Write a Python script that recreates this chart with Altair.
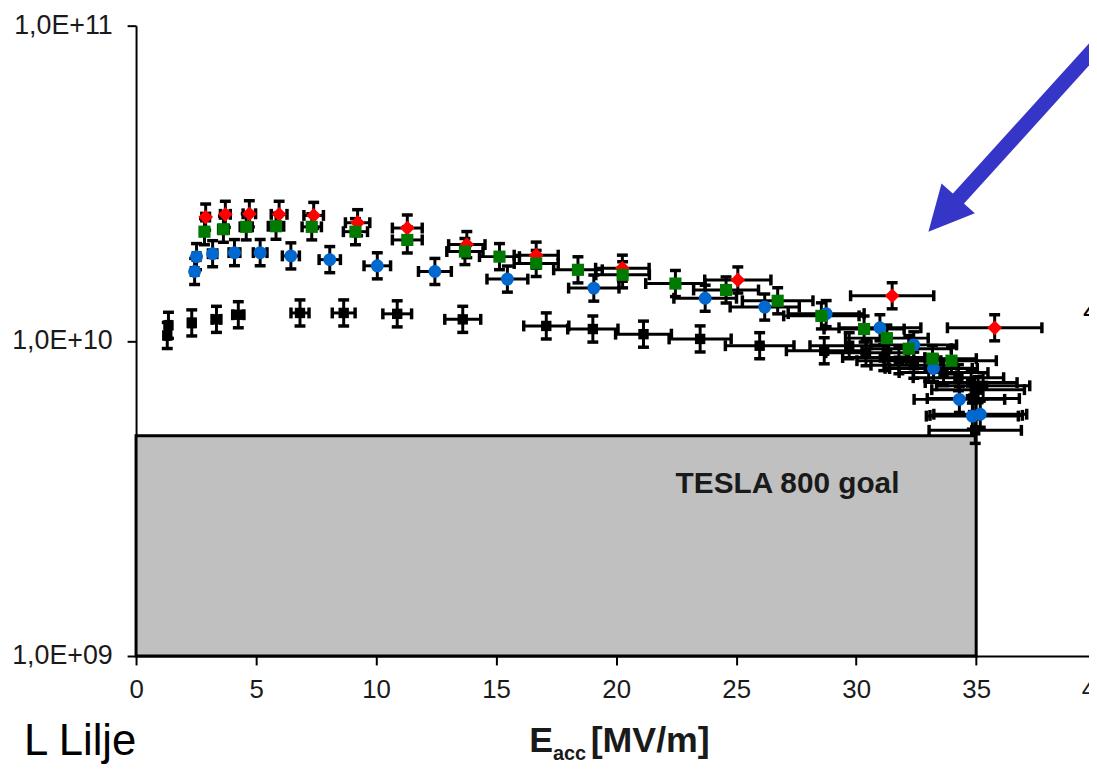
import altair as alt
import pandas as pd

# ---- data: E_acc [MV/m] and Q0 (in units of 1e10) ----
red_E = [2.9, 3.72, 4.72, 5.96, 7.4, 9.23, 11.3, 13.78, 16.67, 20.26, 25.07, 31.5, 35.77]
red_Q = [2.47, 2.52, 2.53, 2.52, 2.50, 2.37, 2.28, 2.02, 1.87, 1.70, 1.56, 1.39, 1.10]

green_E = [2.85, 3.64, 4.59, 5.83, 7.32, 9.14, 11.3, 13.7, 15.14, 16.67, 18.41, 20.27,
           22.47, 24.58, 26.73, 28.55, 30.33, 31.28, 32.19, 33.18, 33.97]
green_Q = [2.22, 2.26, 2.30, 2.31, 2.30, 2.22, 2.09, 1.92, 1.85, 1.76, 1.68, 1.62,
           1.52, 1.45, 1.34, 1.20, 1.09, 1.02, 0.944, 0.878, 0.865]

blue_E = [2.44, 2.52, 3.19, 4.10, 5.17, 6.45, 8.07, 10.05, 12.45, 15.47, 19.07, 23.71,
          26.19, 28.75, 30.99, 32.40, 33.22, 34.30, 34.84, 35.17]
blue_Q = [1.66, 1.85, 1.89, 1.905, 1.905, 1.86, 1.81, 1.73, 1.66, 1.57, 1.47, 1.365,
          1.28, 1.22, 1.10, 0.971, 0.817, 0.652, 0.577, 0.585]

black_E = [1.3, 1.35, 2.32, 3.35, 4.26, 6.83, 8.65, 10.88, 13.61, 17.09, 19.03, 21.14,
           23.5, 25.98, 28.67, 29.71, 30.41, 31.15, 31.78, 32.40, 33.02, 33.64, 34.26,
           34.79, 35.29, 35.08, 34.88, 35.0, 34.96]
black_Q = [1.04, 1.12, 1.14, 1.17, 1.21, 1.226, 1.226, 1.218, 1.17, 1.115, 1.09, 1.05,
           1.014, 0.965, 0.93, 0.965, 0.917, 0.885, 0.865, 0.837, 0.818, 0.793, 0.764,
           0.737, 0.72, 0.70, 0.656, 0.58, 0.52]

rel_err_E = 0.055
rel_err_Q = 0.10

series_order = ["black", "blue", "red", "green"]
series_color = {"black": "#000000", "blue": "#0068cf", "red": "#ff0000", "green": "#007a00"}
series_shape = {"black": "square", "blue": "circle", "red": "diamond", "green": "square"}
series_size = {"black": 110, "blue": 170, "red": 220, "green": 150}

goal_E = [0, 35]
goal_Q = [1e9, 5e9]
goal_label = "TESLA 800 goal"

x_ticks = [0, 5, 10, 15, 20, 25, 30, 35]
x_edge_label = [40]          # last tick label, cut by the right edge of the picture
y_tick_values = [1e9, 1e10, 1e11]
y_tick_labels = ["1,0E+09", "1,0E+10", "1,0E+11"]

arrow_line_E = [33.82, 40.55]
arrow_line_Q = [2.596e10, 9.55e10]
arrow_tip_E = [33.01]
arrow_tip_Q = [2.22e10]
arrow_color = "#3535c8"

FONT = "Liberation Sans"

# ---- build tables ----
rows = []
for name, Es, Qs in [("black", black_E, black_Q), ("blue", blue_E, blue_Q),
                     ("red", red_E, red_Q), ("green", green_E, green_Q)]:
    for e, q in zip(Es, Qs):
        Q = q * 1e10
        rows.append({"series": name, "E": e, "Q": Q,
                     "Elo": e * (1 - rel_err_E), "Ehi": e * (1 + rel_err_E),
                     "Qlo": Q / (1 + rel_err_Q), "Qhi": Q * (1 + rel_err_Q)})
df = pd.DataFrame(rows)

goal_df = pd.DataFrame({"x0": [goal_E[0]], "x1": [goal_E[1]], "y0": [goal_Q[0]], "y1": [goal_Q[1]]})

label_expr = ""
for v, lab in zip(y_tick_values[:-1], y_tick_labels[:-1]):
    label_expr += f"datum.value < {v * 3:.0f} ? '{lab}' : "
label_expr += f"'{y_tick_labels[-1]}'"

# plot area spans 0 .. 39.7 MV/m; the picture is cut just before 40
xscale = alt.Scale(domain=[0, 39.7], nice=False, zero=False)
yscale = alt.Scale(type="log", domain=[1e9, 1e11], nice=False)

xaxis = alt.Axis(values=x_ticks, format="d", title=None, grid=False, tickSize=9,
                 labelPadding=12, labelFontSize=26, labelFont=FONT, labelColor="#1a1a1a",
                 domainColor="black", domainWidth=2, tickColor="black", tickWidth=2,
                 labelFlush=False)
yaxis = alt.Axis(values=y_tick_values, labelExpr=label_expr, title=None, grid=False,
                 tickSize=9, labelPadding=15, labelFontSize=27, labelFont=FONT,
                 labelColor="#1a1a1a", domainColor="black", domainWidth=2,
                 tickColor="black", tickWidth=2)


def X(field):
    return alt.X(f"{field}:Q", scale=xscale, axis=xaxis)


def Y(field):
    return alt.Y(f"{field}:Q", scale=yscale, axis=yaxis)


goal = alt.Chart(goal_df).mark_rect(fill="#c0c0c0", stroke="black", strokeWidth=3).encode(
    x=X("x0"), x2="x1", y=Y("y0"), y2="y1")

goal_text = alt.Chart(pd.DataFrame({"E": [27.14], "Q": [3.5e9], "t": [goal_label]})).mark_text(
    font=FONT, fontSize=30, fontWeight="bold", color="#1a1a1a", align="center", baseline="middle"
).encode(x=X("E"), y=Y("Q"), text="t:N")

edge_label = alt.Chart(pd.DataFrame({"E": x_edge_label, "t": [str(v) for v in x_edge_label]})).mark_text(
    font=FONT, fontSize=26, color="#1a1a1a", align="center", baseline="top"
).encode(x=X("E"), y=alt.value(656), text="t:N")
edge_tick = alt.Chart(pd.DataFrame({"E": x_edge_label})).mark_rule(color="black", strokeWidth=2).encode(
    x=X("E"), y=alt.value(635), y2=alt.value(644))

base = alt.Chart(df)
hbar = base.mark_rule(color="black", strokeWidth=3).encode(x=X("Elo"), x2="Ehi", y=Y("Q"))
vbar = base.mark_rule(color="black", strokeWidth=3).encode(x=X("E"), y=Y("Qlo"), y2="Qhi")
cap_l = base.mark_tick(orient="vertical", size=11, thickness=3.5, color="black", opacity=1).encode(
    x=X("Elo"), y=Y("Q"))
cap_r = base.mark_tick(orient="vertical", size=11, thickness=3.5, color="black", opacity=1).encode(
    x=X("Ehi"), y=Y("Q"))
cap_b = base.mark_tick(orient="horizontal", size=11, thickness=3.5, color="black", opacity=1).encode(
    x=X("E"), y=Y("Qlo"))
cap_t = base.mark_tick(orient="horizontal", size=11, thickness=3.5, color="black", opacity=1).encode(
    x=X("E"), y=Y("Qhi"))

point_layers = []
for s in series_order:
    point_layers.append(
        base.transform_filter(alt.datum.series == s).mark_point(
            shape=series_shape[s], size=series_size[s], filled=True, opacity=1,
            color=series_color[s], strokeWidth=0
        ).encode(x=X("E"), y=Y("Q"))
    )

arrow_line = alt.Chart(pd.DataFrame({"E": arrow_line_E, "Q": arrow_line_Q})).mark_line(
    color=arrow_color, strokeWidth=15, strokeCap="butt").encode(x=X("E"), y=Y("Q"))
arrow_head = alt.Chart(pd.DataFrame({"E": arrow_tip_E, "Q": arrow_tip_Q})).mark_point(
    shape="M0,0 L1,2 L-1,2 Z", size=2025, angle=221.8, filled=True, opacity=1,
    color=arrow_color, strokeWidth=0).encode(x=X("E"), y=Y("Q"))

# fragment of slide text cut by the right edge
fragment = alt.Chart(pd.DataFrame({"t": ["4"]})).mark_text(
    font=FONT, fontSize=30, color="black", align="left", baseline="alphabetic"
).encode(x=alt.value(954), y=alt.value(298), text="t:N")

author = alt.Chart(pd.DataFrame({"t": ["L Lilje"]})).mark_text(
    font=FONT, fontSize=44, color="black", align="left", baseline="alphabetic"
).encode(x=alt.value(-113), y=alt.value(735), text="t:N")

title_E = alt.Chart(pd.DataFrame({"t": ["E"]})).mark_text(
    font=FONT, fontSize=36, fontWeight="bold", color="#1a1a1a", align="left", baseline="alphabetic"
).encode(x=alt.value(396), y=alt.value(732), text="t:N")
title_sub = alt.Chart(pd.DataFrame({"t": ["acc"]})).mark_text(
    font=FONT, fontSize=20, fontWeight="bold", color="#1a1a1a", align="left", baseline="alphabetic"
).encode(x=alt.value(420), y=alt.value(740), text="t:N")
title_unit = alt.Chart(pd.DataFrame({"t": ["[MV/m]"]})).mark_text(
    font=FONT, fontSize=36, fontWeight="bold", color="#1a1a1a", align="left", baseline="alphabetic"
).encode(x=alt.value(458), y=alt.value(732), text="t:N")

chart = alt.layer(
    goal, goal_text, hbar, vbar, cap_l, cap_r, cap_b, cap_t, *point_layers,
    arrow_line, arrow_head, edge_tick, edge_label, fragment, author, title_E, title_sub, title_unit
).properties(
    width=960, height=635,
    padding={"left": 129, "top": 15, "right": 0, "bottom": 107},
    autosize=alt.AutoSizeParams(type="none"),
    background="white",
).configure_view(strokeOpacity=0)

chart.save("out.html", embed_options={"renderer": "svg", "actions": False})
